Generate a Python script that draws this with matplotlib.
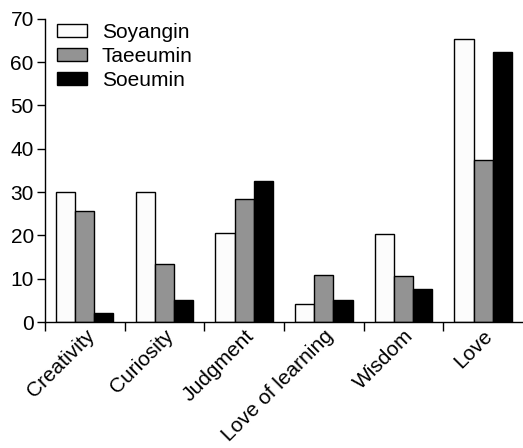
import numpy as np
import matplotlib.pyplot as plt

# data
categories = ['Creativity', 'Curiosity', 'Judgment', 'Love of learning', 'Wisdom', 'Love']
soyangin = [30.0, 30.0, 20.6, 4.2, 20.4, 65.4]
taeeumin = [25.6, 13.5, 28.4, 10.8, 10.7, 37.5]
soeumin = [2.2, 5.1, 32.6, 5.1, 7.7, 62.4]
series_names = ['Soyangin', 'Taeeumin', 'Soeumin']
colors = ['#fcfcfc', '#939393', '#000000']

plt.rcParams['font.family'] = ['Liberation Sans', 'DejaVu Sans']

fig = plt.figure(figsize=(5.23, 4.48), dpi=100)
ax = fig.add_axes([0.086, 0.281, 0.914, 0.677])

x = np.arange(len(categories)) + 0.5
w = 0.24
for i, (vals, name) in enumerate(zip([soyangin, taeeumin, soeumin], series_names)):
    ax.bar(x + (i - 1) * w, vals, w, color=colors[i], edgecolor='black',
           linewidth=1.0, label=name)

ax.set_xlim(0, len(categories))
ax.set_ylim(0, 70)
ax.set_yticks(range(0, 71, 10))
ax.tick_params(axis='y', labelsize=15, length=6, width=1, pad=2)

# boundary ticks between groups, labels at group centres
ax.set_xticks(np.arange(len(categories)), minor=True)
ax.set_xticks(x)
ax.set_xticklabels(categories, rotation=45, ha='right', rotation_mode='anchor')
ax.tick_params(axis='x', which='major', length=0, labelsize=15, pad=3)
ax.tick_params(axis='x', which='minor', length=6.5, width=1, direction='out')

for s in ['top', 'right']:
    ax.spines[s].set_visible(False)
for s in ['left', 'bottom']:
    ax.spines[s].set_linewidth(1.0)

ax.legend(loc='upper left', bbox_to_anchor=(0.008, 1.015), frameon=False,
          fontsize=15, handlelength=1.45, handleheight=0.6,
          labelspacing=0.25, handletextpad=0.7, borderaxespad=0)

fig.savefig('out.png', dpi=100)
